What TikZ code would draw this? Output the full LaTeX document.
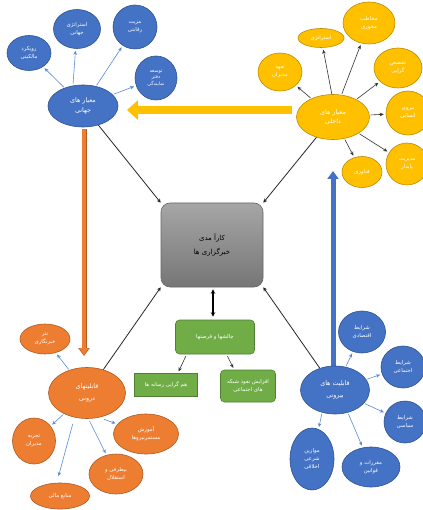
\documentclass[tikz,border=0pt]{standalone}
\usepackage{fontspec}
\newfontfamily\fafont[Script=Arabic]{DejaVu Sans}
\TeXXeTstate=1
\usetikzlibrary{shapes.geometric,arrows.meta}
\newcommand{\fa}[1]{\beginR #1\endR}
\definecolor{cblue}{HTML}{4472C4}
\definecolor{cblueD}{HTML}{2F528F}
\definecolor{cblueL}{HTML}{5B8BD6}
\definecolor{corange}{HTML}{ED7D31}
\definecolor{corangeD}{HTML}{AE5A21}
\definecolor{cyellow}{HTML}{FFC000}
\definecolor{cyellowD}{HTML}{BC8C00}
\definecolor{cgreen}{HTML}{70AD47}
\definecolor{cgreenD}{HTML}{507E32}
\definecolor{cgrayT}{HTML}{A6A6A6}
\definecolor{cgrayB}{HTML}{767676}
\tikzset{
  ell/.style={ellipse, line width=0.6pt, inner sep=0pt, text=white, align=center,
    font=\fafont\fontsize{5.4}{8}\selectfont},
  bl/.style={ell, fill=cblue, draw=cblueD},
  orn/.style={ell, fill=corange, draw=corangeD},
  yel/.style={ell, fill=cyellow, draw=cyellowD},
  grn/.style={rectangle, fill=cgreen, draw=cgreenD, line width=0.6pt, text=white, align=center,
    inner sep=0pt, font=\fafont\fontsize{5.4}{8}\selectfont},
  big/.style={font=\fafont\fontsize{6.4}{9.5}\selectfont},
  barr/.style={draw=cblueL, line width=0.6pt, -{Stealth[length=4pt,width=3.5pt]}, shorten <=1pt, shorten >=2pt},
  karr/.style={draw=black!80, line width=0.6pt, -{Stealth[length=4pt,width=3.5pt]}, shorten <=1pt, shorten >=2pt},
  kline/.style={draw=black!85, line width=0.8pt, -{Stealth[length=4pt,width=4pt]}},
  dbl/.style={draw=black, line width=1.2pt, {Stealth[length=4.5pt,width=4.5pt]}-{Stealth[length=4.5pt,width=4.5pt]}},
}
\begin{document}
\begin{tikzpicture}[x=1pt,y=-1pt]
\useasboundingbox (0,0) rectangle (422,510);
\fill[white] (0,0) rectangle (422,510);

% thick arrows
\coordinate (ya) at (292,110);
\coordinate (yb) at (127,110);
\draw[cyellow, line width=8pt, -{Triangle[length=11pt,width=19pt]}] (ya) -- (yb);
\coordinate (oa) at (84,129);
\coordinate (ob) at (84,356);
\draw[corangeD, line width=5pt, -{Triangle[length=8pt,width=11pt]}] (oa) -- (ob);
\draw[corange, line width=3.6pt, -{Triangle[length=7pt,width=9pt]}, shorten >=0.8pt] (oa) -- (ob);
\coordinate (ba) at (333,368);
\coordinate (bb) at (333,171);
\draw[cblue, line width=5pt, -{Triangle[length=8pt,width=11pt]}] (ba) -- (bb);

% center box
\node[rectangle, rounded corners=9pt, top color=cgrayT, bottom color=cgrayB, draw=black!60, line width=0.6pt,
  minimum width=102pt, minimum height=84pt, align=center, font=\fafont\fontsize{7}{14}\selectfont] (box) at (212,245)
  {\fa{کارآ مدی}\\\fa{خبرگزاری ها}};

% global (blue top-left)
\node[bl, big, minimum width=70pt, minimum height=42pt] (mj) at (83,106) {\fa{معیار های}\\\fa{جهانی}};
\node[bl, minimum width=44pt, minimum height=35pt] (rv) at (29,53) {\fa{رویکرد}\\\fa{مالکیتی}};
\node[bl, minimum width=47pt, minimum height=39pt] (sj) at (77,29) {\fa{استراتژی}\\\fa{جهانی}};
\node[bl, minimum width=44pt, minimum height=44pt] (mr) at (135,27) {\fa{مزیت}\\\fa{رقابتی}};
\node[bl, minimum width=42pt, minimum height=44pt, font=\fafont\fontsize{4.8}{6.8}\selectfont] (td) at (156,78) {\fa{توسعه}\\\fa{دفتر}\\\fa{نمایندگی}};
\draw[barr] (mj) -- (rv);
\draw[barr] (73,85) -- (sj);
\draw[barr] (mj) -- (mr);
\draw[barr] (mj) -- (td);

% internal (yellow)
\node[yel, big, minimum width=73pt, minimum height=45pt] (md) at (333,117) {\fa{معیار های}\\\fa{داخلی}};
\node[yel, minimum width=44pt, minimum height=38pt] (tm) at (280,72) {\fa{تعهد}\\\fa{مدیران}};
\node[yel, minimum width=46pt, minimum height=19pt] (st) at (321,38) {\fa{استراتژی}};
\node[yel, minimum width=52pt, minimum height=42pt] (mm) at (369,23) {\fa{مخاطب}\\\fa{محوری}};
\node[yel, minimum width=48pt, minimum height=40pt] (tg) at (398,68) {\fa{تخصص}\\\fa{گرایی}};
\node[yel, minimum width=44pt, minimum height=44pt] (na) at (408,113) {\fa{نیروی}\\\fa{انسانی}};
\node[yel, minimum width=42pt, minimum height=42pt] (mp) at (407,164) {\fa{مدیریت}\\\fa{پایدار}};
\node[yel, minimum width=40pt, minimum height=31pt] (fn) at (362,172) {\fa{فناوری}};
\draw[karr] (md) -- (tm);
\draw[karr] (332,95) -- (st);
\draw[karr] (md) -- (mm);
\draw[karr] (md) -- (tg);
\draw[karr] (md) -- (na);
\draw[karr] (md) -- (mp);
\draw[karr] (md) -- (fn);

% green
\node[grn, rounded corners=4pt, minimum width=79pt, minimum height=34pt] (cf) at (215,337) {\fa{چالشها و فرصتها}};
\node[grn, minimum width=63pt, minimum height=23pt] (hg) at (166,385) {\fa{هم گرایی رسانه ها}};
\node[grn, rounded corners=4pt, minimum width=55pt, minimum height=32pt] (af) at (248,386) {\fa{افزایش نفوذ شبکه}\\\fa{های اجتماعی}};
\path (cf.south west) ++(11,1) coordinate (c1);
\path (hg.north east) ++(-20,0) coordinate (c2);
\path (cf.south) ++(12,1) coordinate (c3);
\path (af.north west) ++(14,0) coordinate (c4);
\path (box.south) ++(1,2) coordinate (c5);
\path (cf.north) ++(-2,-3) coordinate (c6);
\draw[karr] (c1) -- (c2);
\draw[karr] (c3) -- (c4);
\draw[dbl] (c5) -- (c6);

% internal capabilities (orange)
\node[orn, big, minimum width=77pt, minimum height=51pt] (qd) at (87,393) {\fa{قابلیتهای}\\[3pt]\fa{درونی}};
\node[orn, minimum width=50pt, minimum height=30pt] (nk) at (45,339) {\fa{نثر}\\\fa{خبرنگاری}};
\node[orn, minimum width=43pt, minimum height=46pt] (tj) at (34,441) {\fa{تجربه}\\\fa{مدیران}};
\node[orn, minimum width=65pt, minimum height=40pt] (am) at (146,434) {\fa{آموزش}\\\fa{مستمرنیروها}};
\node[orn, minimum width=54pt, minimum height=40pt] (bt) at (116,474) {\fa{بیطرفی و}\\\fa{استقلال}};
\node[orn, minimum width=59pt, minimum height=26pt] (mn) at (60,496) {\fa{منابع مالی}};
\draw[barr] (qd) -- (nk);
\draw[barr] (qd) -- (tj);
\draw[barr] (103,419) -- (am);
\draw[barr] (89,420) -- (bt);
\draw[barr] (73,423) -- (58,478);

% external capabilities (blue)
\node[bl, big, minimum width=69pt, minimum height=48pt] (qb) at (335,390) {\fa{قابلیت های}\\[3pt]\fa{بیرونی}};
\node[bl, minimum width=47pt, minimum height=42pt] (se) at (362,332) {\fa{شرایط}\\\fa{اقتصادی}};
\node[bl, minimum width=44pt, minimum height=42pt] (sej) at (403,367) {\fa{شرایط}\\\fa{اجتماعی}};
\node[bl, minimum width=42pt, minimum height=42pt] (ss) at (405,422) {\fa{شرایط}\\\fa{سیاسی}};
\node[bl, minimum width=44pt, minimum height=62pt] (mw) at (312,459) {\fa{موازین}\\\fa{شرعی}\\\fa{اخلاقی}};
\node[bl, minimum width=58pt, minimum height=40pt] (mq) at (371,467) {\fa{مقررات و}\\\fa{قوانین}};
\draw[barr] (qb) -- (se);
\draw[barr] (qb) -- (sej);
\draw[barr] (qb) -- (ss);
\draw[barr] (348,413) -- (mq);
\draw[barr] (322,413) -- (mw);

% connectors into center box
\draw[kline] (mj) -- (box.north west);
\draw[kline] (md) -- (box.north east);
\draw[kline] (qd) -- (box.south west);
\draw[kline] (qb) -- (box.south east);
\end{tikzpicture}
\end{document}
